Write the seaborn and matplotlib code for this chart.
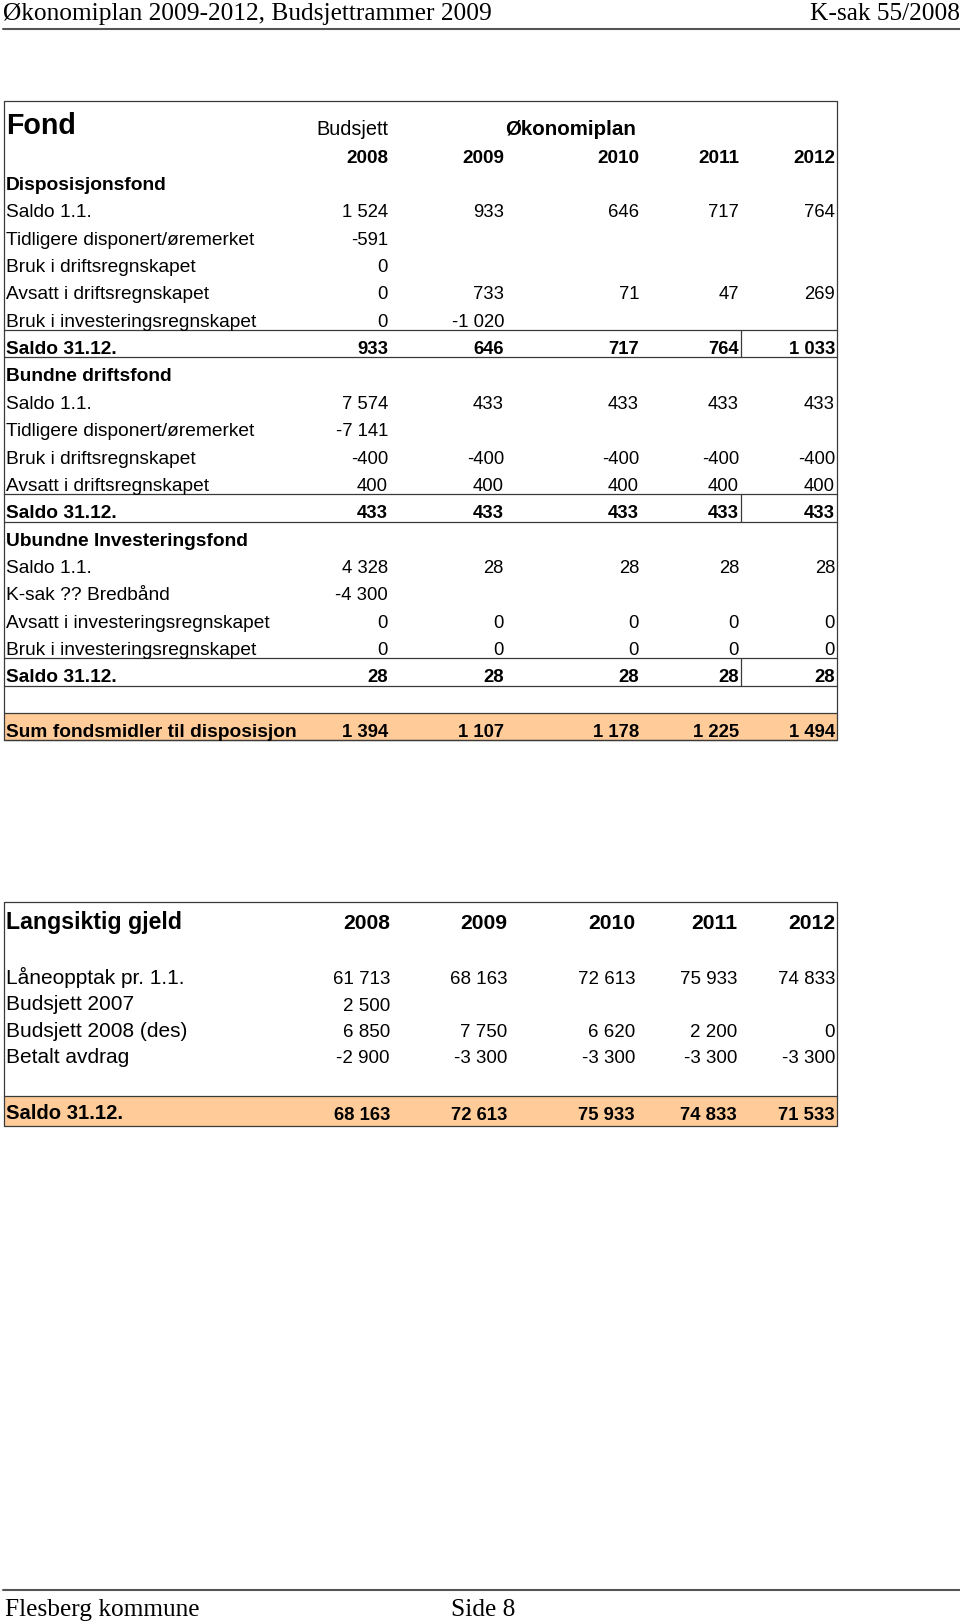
import matplotlib.pyplot as plt
import seaborn as sns

# --- data -------------------------------------------------------------
years = ['2008', '2009', '2010', '2011', '2012']

fond_labels = [
    'Disposisjonsfond', 'Saldo 1.1.', 'Tidligere disponert/øremerket',
    'Bruk i driftsregnskapet', 'Avsatt i driftsregnskapet',
    'Bruk i investeringsregnskapet', 'Saldo 31.12.',
    'Bundne driftsfond', 'Saldo 1.1.', 'Tidligere disponert/øremerket',
    'Bruk i driftsregnskapet', 'Avsatt i driftsregnskapet', 'Saldo 31.12.',
    'Ubundne Investeringsfond', 'Saldo 1.1.', 'K-sak ?? Bredbånd',
    'Avsatt i investeringsregnskapet', 'Bruk i investeringsregnskapet',
    'Saldo 31.12.', '', 'Sum fondsmidler til disposisjon',
]
fond_values = [
    [],
    [1524, 933, 646, 717, 764],
    [-591],
    [0],
    [0, 733, 71, 47, 269],
    [0, -1020],
    [933, 646, 717, 764, 1033],
    [],
    [7574, 433, 433, 433, 433],
    [-7141],
    [-400, -400, -400, -400, -400],
    [400, 400, 400, 400, 400],
    [433, 433, 433, 433, 433],
    [],
    [4328, 28, 28, 28, 28],
    [-4300],
    [0, 0, 0, 0, 0],
    [0, 0, 0, 0, 0],
    [28, 28, 28, 28, 28],
    [],
    [1394, 1107, 1178, 1225, 1494],
]

gjeld_labels = ['Låneopptak pr. 1.1.', 'Budsjett 2007', 'Budsjett 2008 (des)', 'Betalt avdrag']
gjeld_values = [
    [61713, 68163, 72613, 75933, 74833],
    [2500],
    [6850, 7750, 6620, 2200, 0],
    [-2900, -3300, -3300, -3300, -3300],
]
gjeld_saldo = [68163, 72613, 75933, 74833, 71533]


def fmt(v):
    return f'{v:,}'.replace(',', ' ')


# --- figure -----------------------------------------------------------
sns.set_theme(style='white')
plt.rcParams['font.family'] = ['Liberation Sans', 'DejaVu Sans']
plt.rcParams['text.color'] = 'black'

fig = plt.figure(figsize=(9.6, 16.23), dpi=100)
ax = fig.add_axes([0, 0, 1, 1])
ax.set_xlim(0, 960)
ax.set_ylim(1623, 0)
ax.axis('off')

serif = ['Liberation Serif', 'DejaVu Serif']
line_col = '#3a3a3a'
band_col = '#FFCC99'

# page header / footer
ax.text(3, 20, 'Økonomiplan 2009-2012, Budsjettrammer 2009', family=serif, fontsize=18.3, va='baseline')
ax.text(960, 20, 'K-sak 55/2008', family=serif, fontsize=18.3, va='baseline', ha='right')
ax.plot([3, 960], [28.5, 28.5], color='#555555', lw=1.5)
ax.plot([3, 960], [1590, 1590], color='#555555', lw=1.5)
ax.text(5, 1616, 'Flesberg kommune', family=serif, fontsize=18.3, va='baseline')
ax.text(451, 1616, 'Side 8', family=serif, fontsize=18.3, va='baseline')

# --- table 1: Fond ----------------------------------------------------
left, right, top = 4, 837, 101
cols = [388, 504, 639, 739, 835]
row_top, row_h = 166, 27.35
n = len(fond_labels)
bottom = row_top + n * row_h

ax.text(6, 134, 'Fond', fontsize=20.6, fontweight='bold', va='baseline')
ax.text(cols[0], 135, 'Budsjett', fontsize=14.3, ha='right', va='baseline')
ax.text(571, 135, 'Økonomiplan', fontsize=14.8, fontweight='bold', ha='center', va='baseline')
for x, y in zip(cols, years):
    ax.text(x, 163, y, fontsize=13.6, fontweight='bold', ha='right', va='baseline')

for i, (lab, vals) in enumerate(zip(fond_labels, fond_values)):
    y0 = row_top + i * row_h
    base = y0 + 24
    is_total = lab.startswith('Saldo 31') or lab.startswith('Sum')
    is_section = lab != '' and not vals
    bold = is_total or is_section
    if lab.startswith('Sum'):
        ax.fill_between([left, right], y0, y0 + row_h, color=band_col, lw=0)
    if is_total:
        ax.plot([left, right], [y0, y0], color=line_col, lw=0.9)
        ax.plot([left, right], [y0 + row_h, y0 + row_h], color=line_col, lw=0.9)
        if lab.startswith('Saldo'):
            ax.plot([741, 741], [y0, y0 + row_h], color=line_col, lw=0.9)
    ax.text(6, base, lab, fontsize=13.8, fontweight='bold' if bold else 'normal', va='baseline')
    for x, v in zip(cols, vals):
        ax.text(x, base, fmt(v), fontsize=13.3, fontweight='bold' if bold else 'normal',
                ha='right', va='baseline')

ax.plot([left, right, right, left, left], [bottom, bottom, top, top, bottom], color=line_col, lw=0.9)

# --- table 2: Langsiktig gjeld ----------------------------------------
top2, bottom2, band2 = 902, 1126, 1096
cols2 = [390, 507, 635, 737, 835]

ax.fill_between([left, right], band2, bottom2, color=band_col, lw=0)
ax.plot([left, right], [band2, band2], color=line_col, lw=0.9)
ax.plot([left, right, right, left, left], [bottom2, bottom2, top2, top2, bottom2], color=line_col, lw=0.9)

ax.text(6, 929, 'Langsiktig gjeld', fontsize=16.7, fontweight='bold', va='baseline')
for x, y in zip(cols2, years):
    ax.text(x, 929, y, fontsize=15.2, fontweight='bold', ha='right', va='baseline')

for i, (lab, vals) in enumerate(zip(gjeld_labels, gjeld_values)):
    base = 984 + i * 26.3
    ax.text(6, base, lab, fontsize=15, va='baseline')
    for x, v in zip(cols2, vals):
        ax.text(x, base + 0.5, fmt(v), fontsize=13.5, ha='right', va='baseline')

ax.text(6, 1119, 'Saldo 31.12.', fontsize=14.6, fontweight='bold', va='baseline')
for x, v in zip(cols2, gjeld_saldo):
    ax.text(x, 1120, fmt(v), fontsize=13.3, fontweight='bold', ha='right', va='baseline')

fig.savefig('out.png', dpi=100)
